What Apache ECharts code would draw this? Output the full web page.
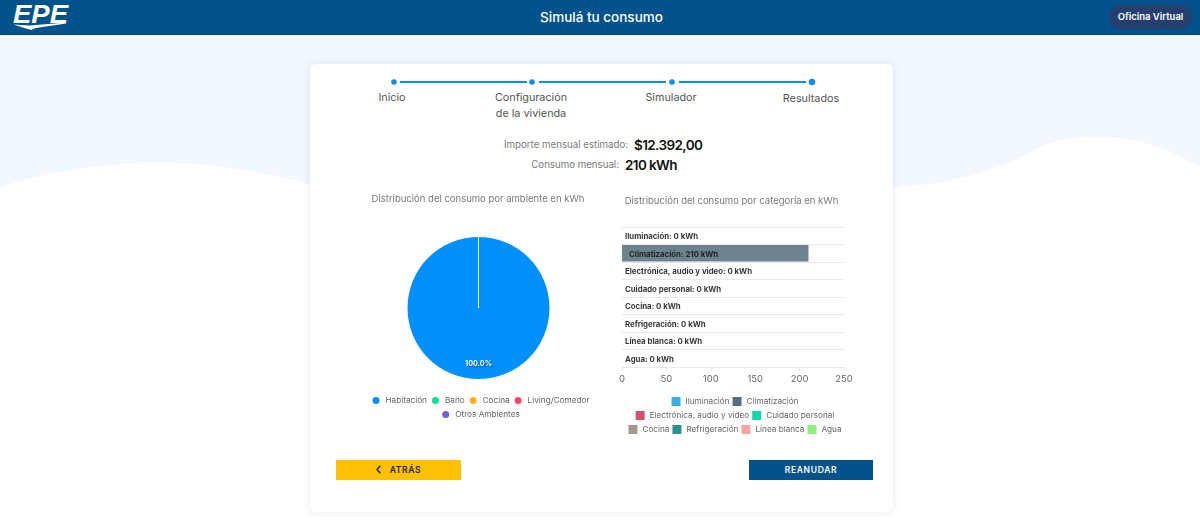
<!DOCTYPE html>
<html>
<head>
<meta charset="utf-8">
<title>Simulá tu consumo</title>
<script src="https://cdn.jsdelivr.net/npm/echarts@6/dist/echarts.min.js"></script>
<style>
  html, body { margin: 0; padding: 0; width: 1200px; height: 520px; overflow: hidden; background: #f3f7ff; font-family: Inter, sans-serif; }
  .abs { position: absolute; white-space: nowrap; }
  #wave { position: absolute; left: 0; top: 0; }
  #header { position: absolute; left: 0; top: 0; width: 1200px; height: 34px; background: #03528b; border-bottom: 1px solid #02477a; }
  #card { position: absolute; left: 310px; top: 64px; width: 583px; height: 448px; background: #fff; border-radius: 6px; box-shadow: 0 0 8px rgba(60, 80, 120, .12); }
  .step { color: #555; font-size: 10.8px; line-height: 16px; text-align: center; transform: translateX(-50%); }
  .lbl { color: #7a7a7a; font-size: 9.7px; transform: translate(-100%, -50%); }
  .val { color: #111; font-weight: 600; font-size: 13.5px; letter-spacing: -.6px; transform: translateY(-50%); }
  .btn { height: 20px; line-height: 20px; width: 125px; text-align: center; font-size: 8.5px; font-weight: 600; letter-spacing: .7px; }
  #pie { position: absolute; left: 340px; top: 185px; width: 280px; height: 250px; }
  #bars { position: absolute; left: 600px; top: 185px; width: 270px; height: 255px; }
</style>
</head>
<body>
<svg id="wave" width="1200" height="520">
  <path fill="#fff" d="M0 187 C55 170 110 163 160 163 C215 163 265 172 320 187 L890 187 C950 186 1000 170 1047 144 C1062 139 1080 137 1095 137 C1140 137 1172 150 1200 167 L1200 520 L0 520 Z"/>
</svg>
<div id="header"></div>
<svg class="abs" style="left:12px;top:2px" width="60" height="30">
  <text x="1" y="21" fill="#fff" font-family="Liberation Sans" font-size="26" font-weight="700" font-style="italic" textLength="55" lengthAdjust="spacingAndGlyphs">EPE</text>
  <path fill="#fff" d="M1.5 22.5 L18 23.5 L54 20.5 L54 21.5 L24 26 L19 28 L14 26.5 Z"/>
</svg>
<div class="abs" style="left:0;width:1200px;top:8px;text-align:center;color:#fff;font-size:13.5px;font-weight:500;line-height:18px;padding-left:3px;box-sizing:border-box">Simulá tu consumo</div>
<div class="abs" style="left:1109px;top:5px;width:83px;height:24px;border-radius:12px;background:#253f6e;color:#fff;font-size:9.5px;font-weight:600;line-height:24px;text-align:center">Oficina Virtual</div>

<div id="card"></div>
<svg class="abs" style="left:0;top:0" width="1200" height="100">
  <g fill="#0d8bf5">
    <circle cx="394" cy="82" r="2.8"/><circle cx="532" cy="82" r="2.8"/><circle cx="672" cy="82" r="2.8"/><circle cx="812" cy="82" r="3.3"/>
    <rect x="400" y="81" width="127" height="2"/><rect x="539" y="81" width="127" height="2"/><rect x="679" y="81" width="127" height="2"/>
  </g>
</svg>
<div class="abs step" style="left:392px;top:90px">Inicio</div>
<div class="abs step" style="left:531px;top:89.5px">Configuración<br>de la vivienda</div>
<div class="abs step" style="left:671px;top:90px">Simulador</div>
<div class="abs step" style="left:811px;top:91px">Resultados</div>

<div class="abs lbl" style="left:628px;top:144px">Importe mensual estimado:</div>
<div class="abs val" style="left:634px;top:145px">$12.392,00</div>
<div class="abs lbl" style="left:619px;top:164px">Consumo mensual:</div>
<div class="abs val" style="left:625px;top:165px">210 kWh</div>

<div id="pie"></div>
<div id="bars"></div>

<div class="abs btn" style="left:336px;top:460px;background:#ffc107;color:#222"><svg width="5" height="9" style="vertical-align:-1px;margin-right:9px"><path d="M4.3 .7 L1 4.5 L4.3 8.3" fill="none" stroke="#222" stroke-width="1.4"/></svg>ATRÁS</div>
<div class="abs btn" style="left:749px;top:460px;width:124px;background:#03528b;color:#fff">REANUDAR</div>

<script>
var ambientes = ['Habitación', 'Baño', 'Cocina', 'Living/Comedor', 'Otros Ambientes'];
var ambienteValues = [210, 0, 0, 0, 0];
var ambienteColors = ['#008ffb', '#00e396', '#feb019', '#ff4560', '#775dd0'];

var categorias = ['Iluminación', 'Climatización', 'Electrónica, audio y video', 'Cuidado personal', 'Cocina', 'Refrigeración', 'Línea blanca', 'Agua'];
var categoriaValues = [0, 210, 0, 0, 0, 0, 0, 0];
var categoriaColors = ['#33b2df', '#546e7a', '#d4526e', '#13d8aa', '#a5978b', '#2b908f', '#f9a3a4', '#90ee7e'];
var kwhTicks = [0, 50, 100, 150, 200, 250];

var fontName = 'Inter';

// pie
var pieChart = echarts.init(document.getElementById('pie'), null, { renderer: 'canvas' });
var legendText = { color: '#666', fontFamily: fontName, fontSize: 8.2 };
pieChart.setOption({
  animation: false,
  textStyle: { fontFamily: fontName },
  title: {
    text: 'Distribución del consumo por ambiente en kWh',
    left: 133, top: 4, textAlign: 'center',
    textStyle: { color: '#7a7a7a', fontSize: 9.5, fontWeight: 'normal', fontFamily: fontName }
  },
  legend: [
    { data: ambientes.slice(0, 4), left: 'center', top: 205, icon: 'circle', itemWidth: 9, itemHeight: 9, itemGap: 3, textStyle: legendText, selectedMode: false },
    { data: ambientes.slice(4), left: 'center', top: 219, icon: 'circle', itemWidth: 9, itemHeight: 9, textStyle: legendText, selectedMode: false }
  ],
  color: ambienteColors,
  series: [{
    type: 'pie',
    center: [138.5, 123],
    radius: [0, 71.5],
    startAngle: 90,
    itemStyle: { borderColor: '#fff', borderWidth: 1 },
    labelLine: { show: false },
    data: ambientes.map(function (name, i) {
      return {
        name: name,
        value: ambienteValues[i],
        label: {
          show: ambienteValues[i] > 0,
          position: 'inside',
          offset: [0, 17],
          formatter: function (p) { return p.percent.toFixed(1) + '%'; },
          color: '#fff', fontSize: 7.2, fontWeight: 'bold', fontFamily: fontName,
          textShadowColor: 'rgba(0,0,0,.5)', textShadowBlur: 2, textShadowOffsetX: 1, textShadowOffsetY: 1
        }
      };
    })
  }]
});

// barras
var barChart = echarts.init(document.getElementById('bars'), null, { renderer: 'canvas' });
var barLegendRows = [categorias.slice(0, 2), categorias.slice(2, 4), categorias.slice(4)];
barChart.setOption({
  animation: false,
  textStyle: { fontFamily: fontName },
  title: {
    text: 'Distribución del consumo por categoría en kWh',
    left: 126.5, top: 6, textAlign: 'center',
    textStyle: { color: '#7a7a7a', fontSize: 9.5, fontWeight: 'normal', fontFamily: fontName }
  },
  legend: barLegendRows.map(function (row, i) {
    return {
      data: row, left: 'center', top: 207 + i * 14, icon: 'rect', itemWidth: 9, itemHeight: 9, itemGap: 3,
      itemStyle: { opacity: 1 },
      textStyle: legendText, selectedMode: false
    };
  }),
  grid: { left: 22, top: 42, width: 222, height: 140, containLabel: false },
  xAxis: {
    type: 'value', min: 0, max: kwhTicks[kwhTicks.length - 1], interval: 50,
    axisLine: { show: false },
    axisTick: { show: true, length: 4, lineStyle: { color: '#e4e7ea' } },
    axisLabel: { color: '#666', fontSize: 9.5, fontFamily: fontName, margin: 7 },
    splitLine: { show: false }
  },
  yAxis: {
    type: 'category', inverse: true, data: categorias,
    axisLine: { show: false }, axisTick: { show: false }, axisLabel: { show: false },
    splitLine: { show: true, lineStyle: { color: '#e6e8eb', width: 1 } }
  },
  series: categorias.map(function (name, i) {
    return {
      name: name,
      type: 'bar',
      stack: 'consumo',
      barWidth: '94%',
      itemStyle: { color: categoriaColors[i], opacity: 0.85 },
      label: {
        show: true,
        position: 'insideLeft',
        distance: categoriaValues[i] > 0 ? 7 : 3,
        offset: [0, 1],
        formatter: function () { return name + ': ' + categoriaValues[i] + ' kWh'; },
        color: '#111', fontSize: 7.8, fontWeight: 700, fontFamily: fontName
      },
      data: categorias.map(function (c, j) { return j === i ? categoriaValues[i] : null; })
    };
  })
});

window.addEventListener('resize', function () { pieChart.resize(); barChart.resize(); });
</script>
</body>
</html>
